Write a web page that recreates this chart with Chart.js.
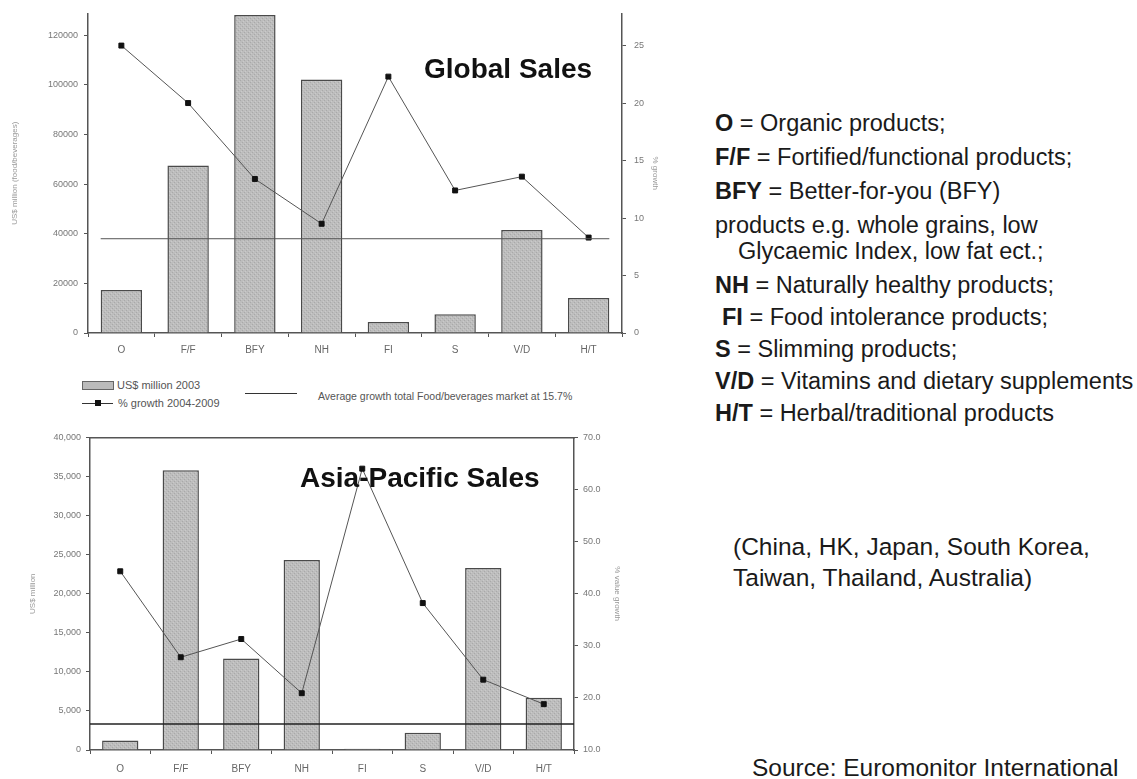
<!DOCTYPE html>
<html>
<head>
<meta charset="utf-8">
<title>Health and wellness sales</title>
<script src="https://cdn.jsdelivr.net/npm/chart.js@4.4.0/dist/chart.umd.min.js"></script>
<style>
  body { margin: 0; background: #fff; width: 1137px; height: 779px; overflow: hidden; position: relative;
         font-family: "Liberation Sans", Arial, sans-serif; }
  canvas { position: absolute; }
  .t { position: absolute; white-space: nowrap; }
  .key { font-size: 23.5px; color: #1a1a1a; line-height: 28px; }
  .note { font-size: 24.5px; color: #1a1a1a; line-height: 28px; }
  .big { font-size: 28px; font-weight: bold; color: #111; line-height: 32px; }
  .small { font-size: 11px; color: #555; line-height: 12px; }
</style>
</head>
<body>

<canvas id="globalChart" width="664" height="365" style="left:0; top:0;"></canvas>
<canvas id="asiaChart" width="626" height="352" style="left:0; top:427px;"></canvas>

<div class="t big" style="left:424px; top:53px;">Global Sales</div>
<div class="t big" style="left:300px; top:462px;">Asia-Pacific Sales</div>

<!-- legend between the two charts -->
<div style="position:absolute; left:82px; top:381px; width:30px; height:7px; background:#bbb; border:1px solid #666;"></div>
<div class="t small" style="left:117px; top:379px;">US$ million 2003</div>
<div style="position:absolute; left:82px; top:403px; width:31px; height:1px; background:#333;"></div>
<div style="position:absolute; left:95px; top:400px; width:6px; height:6px; background:#111;"></div>
<div class="t small" style="left:118px; top:397px;">% growth 2004-2009</div>
<div style="position:absolute; left:245px; top:393px; width:52px; height:1px; background:#333;"></div>
<div class="t small" style="left:318px; top:390px; font-size:10.5px;">Average growth total Food/beverages market at 15.7%</div>

<!-- abbreviations -->
<div class="t key" style="left:715px; top:109px;"><b>O</b> = Organic products;</div>
<div class="t key" style="left:715px; top:143px;"><b>F/F</b> = Fortified/functional products;</div>
<div class="t key" style="left:715px; top:177px;"><b>BFY</b> = Better-for-you (BFY)</div>
<div class="t key" style="left:715px; top:211px;">products e.g. whole grains, low</div>
<div class="t key" style="left:738px; top:237px;">Glycaemic Index, low fat ect.;</div>
<div class="t key" style="left:715px; top:271px;"><b>NH</b> = Naturally healthy products;</div>
<div class="t key" style="left:722px; top:303px;"><b>FI</b> = Food intolerance products;</div>
<div class="t key" style="left:715px; top:335px;"><b>S</b> = Slimming products;</div>
<div class="t key" style="left:715px; top:367px;"><b>V/D</b> = Vitamins and dietary supplements</div>
<div class="t key" style="left:715px; top:399px;"><b>H/T</b> = Herbal/traditional products</div>

<div class="t note" style="left:733px; top:533px;">(China, HK, Japan, South Korea,</div>
<div class="t note" style="left:733px; top:564px;">Taiwan, Thailand, Australia)</div>
<div class="t note" style="left:752px; top:754px;">Source: Euromonitor International</div>

<script>
const categories = ['O', 'F/F', 'BFY', 'NH', 'FI', 'S', 'V/D', 'H/T'];

// Global Sales: US$ million 2003 and % growth 2004-2009
const globalSales = [17300, 67500, 128200, 102200, 4400, 7600, 41500, 14100];
const globalGrowth = [25.0, 20.0, 13.4, 9.5, 22.3, 12.4, 13.6, 8.3];
const globalAvgGrowth = 8.2;
const globalSalesTicks = [0, 20000, 40000, 60000, 80000, 100000, 120000];
const globalGrowthTicks = [0, 5, 10, 15, 20, 25];

// Asia-Pacific Sales
const asiaSales = [1200, 35800, 11700, 24300, 150, 2200, 23300, 6700];
const asiaGrowth = [44.3, 27.8, 31.3, 20.9, 64.0, 38.2, 23.5, 18.8];
const asiaAvgGrowth = 15.0;
const asiaSalesTicks = [0, 5000, 10000, 15000, 20000, 25000, 30000, 35000, 40000];
const asiaGrowthTicks = [10, 20, 30, 40, 50, 60, 70];

const axisColor = '#555';
const tickColor = '#777';

// stippled grey fill, like the printed bars
function stipple() {
    const c = document.createElement('canvas');
    c.width = 4;
    c.height = 4;
    const g = c.getContext('2d');
    g.fillStyle = '#bdbdbd';
    g.fillRect(0, 0, 4, 4);
    g.fillStyle = '#a9a9a9';
    g.fillRect(0, 0, 1, 1);
    g.fillRect(2, 2, 1, 1);
    g.fillStyle = '#cacaca';
    g.fillRect(3, 1, 1, 1);
    g.fillRect(1, 3, 1, 1);
    return g.createPattern(c, 'repeat');
}

// horizontal "average growth" line, drawn on the growth axis
const avgLinePlugin = {
    id: 'avgLine',
    afterDatasetsDraw(chart, args, opts) {
        const { ctx, chartArea, scales } = chart;
        const y = scales.y2.getPixelForValue(opts.value);
        let x0 = chartArea.left;
        let x1 = chartArea.right;
        if (opts.span === 'bars') {
            const bars = chart.getDatasetMeta(1).data;
            const last = bars[bars.length - 1];
            x0 = bars[0].x - bars[0].width / 2;
            x1 = last.x + last.width / 2;
        }
        ctx.save();
        ctx.strokeStyle = opts.color || '#333';
        ctx.lineWidth = opts.width || 1;
        ctx.beginPath();
        ctx.moveTo(x0, y);
        ctx.lineTo(x1, y);
        ctx.stroke();
        ctx.restore();
    }
};

function makeChart(id, o) {
    const scales = {
        x: {
            type: 'category',
            offset: true,
            grid: { drawOnChartArea: false, offset: true, tickLength: 4, color: axisColor },
            border: { color: axisColor, width: 1.5 },
            ticks: { color: '#666', font: { size: 10 }, padding: o.xPad },
            afterFit: (s) => { s.height = o.xHeight; }
        },
        y: {
            position: 'left',
            min: 0,
            max: o.salesMax,
            afterBuildTicks: (s) => { s.ticks = o.salesTicks.map((v) => ({ value: v })); },
            grid: { drawOnChartArea: false, tickLength: 4, color: axisColor },
            border: { color: axisColor, width: 1.5 },
            ticks: { color: tickColor, font: { size: 9 }, padding: o.leftPad, callback: o.salesFmt },
            title: { display: true, text: o.leftTitle, color: '#999', font: { size: 8 }, padding: { top: o.leftTitlePad } },
            afterFit: (s) => { s.width = o.leftWidth; }
        },
        y2: {
            position: 'right',
            min: o.growthMin,
            max: o.growthMax,
            afterBuildTicks: (s) => { s.ticks = o.growthTicks.map((v) => ({ value: v })); },
            grid: { drawOnChartArea: false, tickLength: 4, color: axisColor },
            border: { color: axisColor, width: 1.5 },
            ticks: { color: tickColor, font: { size: 9 }, padding: o.rightPad, callback: o.growthFmt },
            title: { display: true, text: o.rightTitle, color: '#999', font: { size: 8 }, padding: { top: 4 } },
            afterFit: (s) => { s.width = o.rightWidth; }
        }
    };
    if (o.topBorder) {
        scales.xTop = {
            type: 'category',
            position: 'top',
            grid: { display: false },
            ticks: { display: false },
            border: { color: axisColor, width: 1.5 },
            afterFit: (s) => { s.height = 0; }
        };
    }

    return new Chart(document.getElementById(id), {
        data: {
            labels: categories,
            datasets: [
                {
                    type: 'line',
                    label: '% growth 2004-2009',
                    data: o.growth,
                    yAxisID: 'y2',
                    order: 0,
                    borderColor: '#555',
                    borderWidth: 1,
                    tension: 0,
                    pointStyle: 'rect',
                    pointRadius: 3.5,
                    pointBackgroundColor: '#111',
                    pointBorderColor: '#111'
                },
                {
                    type: 'bar',
                    label: 'US$ million 2003',
                    data: o.sales,
                    yAxisID: 'y',
                    order: 1,
                    backgroundColor: stipple(),
                    borderColor: '#4a4a4a',
                    borderWidth: 1.5,
                    barPercentage: o.barPct,
                    categoryPercentage: 1
                }
            ]
        },
        options: {
            responsive: false,
            animation: false,
            layout: { padding: { top: o.padTop, left: 0, right: 0, bottom: 0 } },
            plugins: {
                legend: { display: false },
                tooltip: { enabled: false },
                avgLine: { value: o.avg, span: o.avgSpan, color: o.avgColor, width: o.avgWidth }
            },
            scales: scales
        },
        plugins: [avgLinePlugin]
    });
}

makeChart('globalChart', {
    sales: globalSales, growth: globalGrowth, avg: globalAvgGrowth, avgSpan: 'bars',
    avgColor: '#555', avgWidth: 1,
    salesTicks: globalSalesTicks, growthTicks: globalGrowthTicks,
    salesMax: 128800, growthMin: 0, growthMax: 27.8,
    salesFmt: (v) => String(v), growthFmt: (v) => String(v),
    leftTitle: 'US$ million (food/beverages)', rightTitle: '% growth',
    padTop: 13, xHeight: 32, xPad: 7, leftWidth: 88, rightWidth: 42,
    leftPad: 6, rightPad: 8, leftTitlePad: 10, barPct: 0.62, topBorder: false
});

makeChart('asiaChart', {
    sales: asiaSales, growth: asiaGrowth, avg: asiaAvgGrowth, avgSpan: 'area',
    avgColor: '#222', avgWidth: 1.5,
    salesTicks: asiaSalesTicks, growthTicks: asiaGrowthTicks,
    salesMax: 40000, growthMin: 10, growthMax: 70,
    salesFmt: (v) => v.toLocaleString('en-US'), growthFmt: (v) => v.toFixed(1),
    leftTitle: 'US$ million', rightTitle: '% value growth',
    padTop: 10, xHeight: 29, xPad: 9, leftWidth: 90, rightWidth: 52,
    leftPad: 5, rightPad: 5, leftTitlePad: 28, barPct: 0.6, topBorder: true
});
</script>
</body>
</html>
